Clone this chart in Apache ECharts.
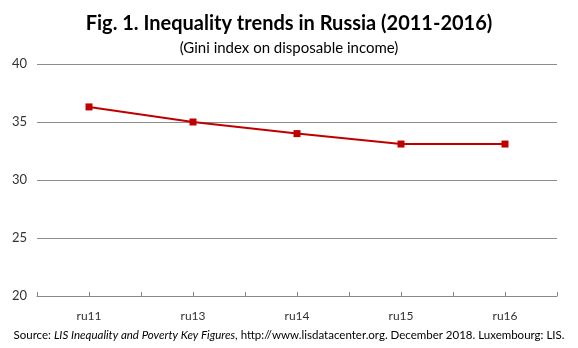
<!DOCTYPE html>
<html><head><meta charset="utf-8">
<script src="https://cdn.jsdelivr.net/npm/echarts@6/dist/echarts.min.js"></script>
<style>html,body{margin:0;padding:0;background:#fff}#c{width:578px;height:348px}</style>
</head><body><div id="c"></div>
<script>
var categories = ['ru11', 'ru13', 'ru14', 'ru15', 'ru16'];
var giniValues = [36.3, 35.0, 34.0, 33.1, 33.1];
var yTicks = [20, 25, 30, 35, 40];

var FONT = 'Lato, "Open Sans", sans-serif';
var chart = echarts.init(document.getElementById('c'), null, {renderer: 'canvas'});
chart.setOption({
  animation: false,
  backgroundColor: '#fff',
  title: [{
    text: 'Fig. 1. Inequality trends in Russia (2011-2016)',
    left: 'center', top: 9,
    textStyle: {fontFamily: FONT, fontSize: 20, fontWeight: 'bold', color: '#000'}
  }, {
    text: '(Gini index on disposable income)',
    left: 'center', top: 36,
    textStyle: {fontFamily: FONT, fontSize: 15, fontWeight: 'normal', color: '#000'}
  }],
  graphic: [{
    type: 'text', left: 'center', top: 329,
    style: {
      text: '{n|Source: }{i|LIS Inequality and Poverty Key Figures}{n|, http://www.lisdatacenter.org. December 2018. Luxembourg: LIS.}',
      rich: {
        n: {fontFamily: FONT, fontSize: 11.5, fill: '#000'},
        i: {fontFamily: FONT, fontSize: 11.5, fontStyle: 'italic', fill: '#000'}
      }
    }
  }],
  grid: {left: 37, right: 21, top: 64, bottom: 52, containLabel: false},
  xAxis: [{
    type: 'category', data: categories, boundaryGap: true,
    axisLine: {lineStyle: {color: '#898989', width: 1}},
    axisTick: {show: true, inside: true, length: 4, alignWithLabel: true, lineStyle: {color: '#898989'}},
    axisLabel: {fontFamily: FONT, fontSize: 12, color: '#333', margin: 14}
  }, {
    type: 'category', data: categories, boundaryGap: true, position: 'bottom',
    axisLine: {show: false},
    axisTick: {show: true, inside: true, length: 4, lineStyle: {color: '#898989'}},
    axisLabel: {show: false}
  }],
  yAxis: {
    type: 'value', min: yTicks[0], max: yTicks[yTicks.length - 1], interval: 5,
    axisLine: {show: false}, axisTick: {show: false},
    splitLine: {lineStyle: {color: '#8c8c8c', width: 1}},
    axisLabel: {fontFamily: FONT, fontSize: 13, color: '#333', margin: 10}
  },
  series: [{
    type: 'line', data: giniValues, xAxisIndex: 0,
    symbol: 'rect', symbolSize: 7,
    lineStyle: {color: '#c00000', width: 2},
    itemStyle: {color: '#c00000'}
  }]
});
</script></body></html>
